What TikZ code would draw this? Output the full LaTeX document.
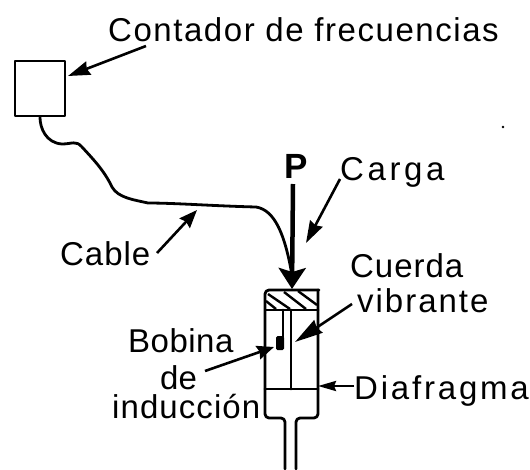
\documentclass[tikz,border=0pt]{standalone}
\usepackage{fontspec}
\setmainfont{Liberation Sans}
\usetikzlibrary{arrows.meta}
\newcommand{\spc}[1]{\addfontfeatures{LetterSpace=#1}}
\tikzset{
  lbl/.style={anchor=base west,inner sep=0pt,font=\fontsize{33}{33}\selectfont},
  ink/.style={line width=2.8pt,black,line cap=round,line join=round},
  ptr/.style={line width=2.6pt,black},
  hatch/.style={line width=2.4pt,black}
}
\begin{document}
\begin{tikzpicture}[x=1pt,y=-1pt]
\useasboundingbox (0,0) rectangle (530,469);
% labels
\node[lbl] (cont) at (108,41) {\spc{4.7}Contador de frecuencias};
\node[lbl] (carga) at (340,180) {\spc{11}Carga};
\node[lbl] (cuerda) at (350,277) {\spc{3}Cuerda};
\node[lbl] (vibr) at (357,312) {\spc{6}vibrante};
\node[lbl] (diaf) at (354,399) {\spc{8.5}Diafragma};
\node[lbl] (bob) at (128,352) {\spc{1.5}Bobina};
\node[lbl] (de) at (160,389) {de};
\node[lbl] (ind) at (112,418) {\spc{3.3}inducción};
\node[lbl] (cab) at (60,265) {\spc{3}Cable};
\node[anchor=base west,inner sep=0pt,font=\fontsize{35}{35}\selectfont\bfseries] (p) at (284,178) {P};
% counter box
\node[draw,ink,minimum width=50pt,minimum height=55pt,inner sep=0pt] (box) at (40,88.5) {};
% cable
\coordinate (cabEnd) at (292,275);
\draw[ink] (box.south) .. controls (40,128) and (46,143) .. (62,144)
  .. controls (72,144) and (76,140) .. (82,147)
  .. controls (92,158) and (104,170) .. (112,187)
  .. controls (118,198) and (135,200) .. (148,203)
  .. controls (175,203) and (215,206) .. (256,207)
  .. controls (275,210) and (285,235) .. (cabEnd);
% load P
\coordinate (pTop) at (293,184);
\coordinate (pTip) at (292,289);
\draw[line width=4.5pt,-{Stealth[length=21pt,width=27pt,inset=4pt]}] (pTop) -- (pTip);
% cylinder
\coordinate (tubeL) at (285,469);
\coordinate (tubeR) at (296,469);
\draw[ink,rounded corners=4pt] (tubeL) -- (285,418) -- (265,418) -- (265,290) -- (319,290);
\draw[ink,rounded corners=4pt] (tubeR) -- (296,418) -- (318,418) -- (318,290);
\draw[ink] (266,310) -- (318,310);
\draw[ink] (265,389) -- (318,389);
% hatching of the plate
\draw[hatch] (268,294) -- (290,309)
             (266,301) -- (276,309)
             (284,292) -- (306,309)
             (298,291) -- (317,305);
% string and coil
\coordinate (strTop) at (291,310);
\coordinate (strBot) at (291,389);
\draw[ink] (strTop) -- (strBot);
\coordinate (coilTop) at (283,310);
\coordinate (coilBot) at (283,337);
\draw[ink] (coilTop) -- (coilBot);
\node[fill=black,rounded corners=1.5pt,minimum width=8pt,minimum height=14pt,inner sep=0pt] (coil) at (280,343) {};
% pointers
\coordinate (a1) at (146,46); \coordinate (a1t) at (68,76);
\draw[ptr,-{Stealth[length=22pt,width=14pt,inset=2pt]}] (a1) -- (a1t);
\coordinate (a2) at (340,179); \coordinate (a2t) at (306,243);
\draw[ptr,-{Stealth[length=22pt,width=14pt,inset=2pt]}] (a2) -- (a2t);
\coordinate (a3) at (157,253); \coordinate (a3t) at (197,210);
\draw[ptr,-{Stealth[length=18pt,width=14pt,inset=2pt]}] (a3) -- (a3t);
\coordinate (a4) at (352,304); \coordinate (a4t) at (295,342);
\draw[ptr,-{Stealth[length=28pt,width=15pt,inset=2pt]}] (a4) -- (a4t);
\coordinate (a5) at (205,371); \coordinate (a5t) at (274,347);
\draw[ptr,-{Stealth[length=17pt,width=14pt,inset=2pt]}] (a5) -- (a5t);
\coordinate (a6) at (354,386); \coordinate (a6t) at (318,386);
\draw[ptr,-{Stealth[length=18pt,width=10pt,inset=2pt]}] (a6) -- (a6t);
% speck
\fill (503,127) circle (1.3pt);
\end{tikzpicture}
\end{document}
